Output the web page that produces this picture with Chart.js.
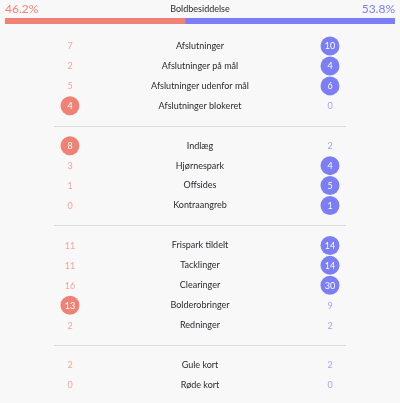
<!DOCTYPE html>
<html>
<head>
<meta charset="utf-8">
<script src="https://cdn.jsdelivr.net/npm/chart.js@4"></script>
<style>
  html, body { margin: 0; padding: 0; background: #f8f8f8; }
  #wrap { position: relative; width: 400px; height: 403px; }
  #possChart { position: absolute; left: 0; top: 0; }
  #statsChart { position: absolute; left: 0; top: 0; }
</style>
</head>
<body>
<div id="wrap">
  <canvas id="statsChart" width="400" height="403"></canvas>
  <canvas id="possChart" width="400" height="30"></canvas>
</div>
<script>

const possessionLabel = 'Boldbesiddelse';
const possession = [46.2, 53.8];

const categories = ['Afslutninger', 'Afslutninger på mål', 'Afslutninger udenfor mål', 'Afslutninger blokeret',
    'Indlæg', 'Hjørnespark', 'Offsides', 'Kontraangreb',
    'Frispark tildelt', 'Tacklinger', 'Clearinger', 'Bolderobringer', 'Redninger',
    'Gule kort', 'Røde kort'];
const homeValues = [7, 2, 5, 4, 8, 3, 1, 0, 11, 11, 16, 13, 2, 2, 0];
const awayValues = [10, 4, 6, 0, 2, 4, 5, 1, 14, 14, 30, 9, 2, 2, 0];
const groupSizes = [4, 4, 5, 2];

const homeColor = '#f08275';
const awayColor = '#7b7ef5';
const homeLight = '#f3a496';
const awayLight = '#a3a5f7';
const textColor = '#2a2a32';
const fontFamily = "'Lato', 'Noto Sans', sans-serif";

Chart.defaults.font.family = fontFamily;
Chart.defaults.animation = false;

// possession bar
const possCtx = document.getElementById('possChart').getContext('2d');
const possLabels = {
    id: 'possLabels',
    afterDraw(chart) {
        const c = chart.ctx;
        c.save();
        c.textBaseline = 'middle';
        c.font = "12px " + fontFamily;
        c.fillStyle = homeColor;
        c.textAlign = 'left';
        c.fillText(possession[0].toFixed(1) + '%', 5, 9);
        c.fillStyle = awayColor;
        c.textAlign = 'right';
        c.fillText(possession[1].toFixed(1) + '%', 395, 9);
        c.fillStyle = textColor;
        c.textAlign = 'center';
        c.font = "9px " + fontFamily;
        c.fillText(possessionLabel, 200, 9);
        c.restore();
    }
};
new Chart(possCtx, {
    type: 'bar',
    data: {
        labels: [possessionLabel],
        datasets: [
            { data: [possession[0]], backgroundColor: homeColor, borderWidth: 0 },
            { data: [possession[1]], backgroundColor: awayColor, borderWidth: 0 }
        ]
    },
    options: {
        indexAxis: 'y',
        responsive: false,
        barPercentage: 1,
        categoryPercentage: 1,
        layout: { padding: { left: 5, right: 5, top: 18, bottom: 6 } },
        scales: {
            x: { stacked: true, min: 0, max: 100, display: false },
            y: { stacked: true, display: false }
        },
        plugins: { legend: { display: false }, tooltip: { enabled: false } }
    },
    plugins: [possLabels]
});

// row slots: one empty slot between groups for the divider
const rowSlot = [];
const dividerSlots = [];
let slot = 0;
groupSizes.forEach((n, g) => {
    for (let i = 0; i < n; i++) rowSlot.push(slot++);
    if (g < groupSizes.length - 1) dividerSlots.push(slot++);
});

const homePoints = homeValues.map((v, i) => ({ x: -0.65, y: rowSlot[i], v: v, hi: v > awayValues[i] }));
const awayPoints = awayValues.map((v, i) => ({ x: 0.65, y: rowSlot[i], v: v, hi: v > homeValues[i] }));

const statsText = {
    id: 'statsText',
    beforeDatasetsDraw(chart) {
        const c = chart.ctx;
        const ys = chart.scales.y;
        c.save();
        c.strokeStyle = '#dcdcdc';
        c.lineWidth = 1;
        dividerSlots.forEach(s => {
            const y = Math.round(ys.getPixelForValue(s)) + 0.5;
            c.beginPath();
            c.moveTo(54, y);
            c.lineTo(346, y);
            c.stroke();
        });
        c.restore();
    },
    afterDatasetsDraw(chart) {
        const c = chart.ctx;
        const xs = chart.scales.x;
        const ys = chart.scales.y;
        c.save();
        c.textBaseline = 'middle';
        c.textAlign = 'center';
        c.font = "9px " + fontFamily;
        c.fillStyle = textColor;
        categories.forEach((cat, i) => {
            c.fillText(cat, xs.getPixelForValue(0), ys.getPixelForValue(rowSlot[i]));
        });
        chart.data.datasets.forEach((ds, di) => {
            const light = di === 0 ? homeLight : awayLight;
            ds.data.forEach(p => {
                c.fillStyle = p.hi ? '#ffffff' : light;
                c.fillText(String(p.v), xs.getPixelForValue(p.x), ys.getPixelForValue(p.y) + 0.5);
            });
        });
        c.restore();
    }
};

const statsCtx = document.getElementById('statsChart').getContext('2d');
new Chart(statsCtx, {
    type: 'scatter',
    data: {
        datasets: [
            { data: homePoints, backgroundColor: homeColor, borderWidth: 0,
              pointRadius: ctx => ctx.raw && ctx.raw.hi ? 9.5 : 0 },
            { data: awayPoints, backgroundColor: awayColor, borderWidth: 0,
              pointRadius: ctx => ctx.raw && ctx.raw.hi ? 9.5 : 0 }
        ]
    },
    options: {
        responsive: false,
        layout: { padding: 0 },
        scales: {
            x: { type: 'linear', min: -0.9525, max: 0.9525, display: false },
            y: { type: 'linear', reverse: true, min: -1.83, max: 17.426, display: false }
        },
        plugins: { legend: { display: false }, tooltip: { enabled: false } }
    },
    plugins: [statsText]
});
</script>
</body>
</html>
